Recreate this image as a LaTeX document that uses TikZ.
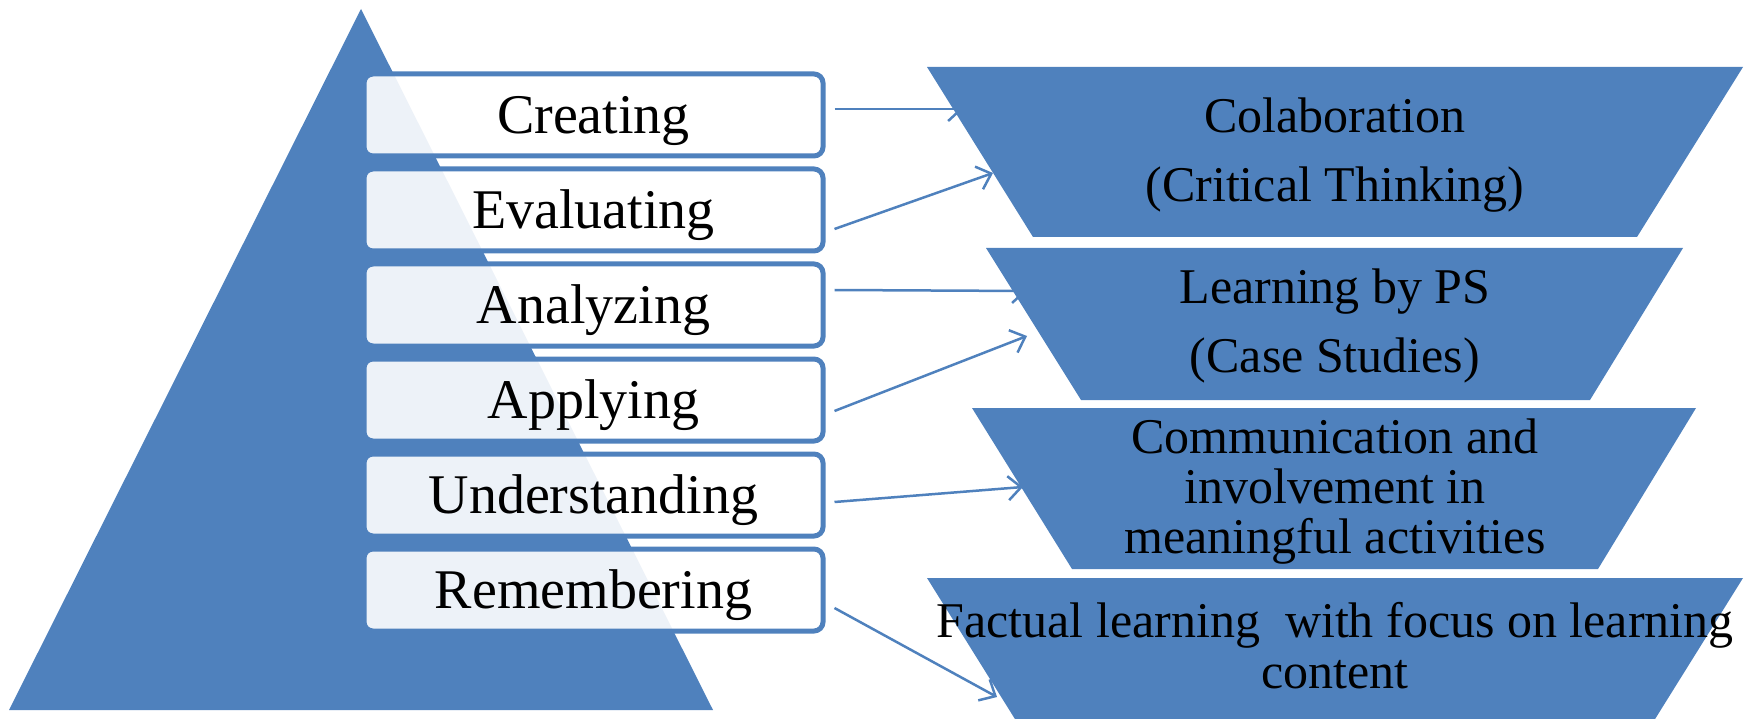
\documentclass[tikz,border=0pt]{standalone}
\usepackage{fontspec}
\setmainfont{Liberation Serif}
\usepackage{tikz}
\usetikzlibrary{positioning}
\usetikzlibrary{arrows.meta}
\definecolor{bloomblue}{HTML}{4F81BD}
\tikzset{stage/.style={draw=bloomblue, line width=5pt, rounded corners=9pt,
  fill=white, fill opacity=0.9, text opacity=1, minimum width=459pt,
  minimum height=82pt, inner sep=0pt, text height=37pt, text depth=0pt,
  font=\fontsize{56}{60}\selectfont}}
\tikzset{goal/.style={align=center, anchor=base, inner sep=0pt}}
\tikzset{link/.style={draw=bloomblue, line width=2.5pt, ->}}

\begin{document}
\begin{tikzpicture}[x=1pt, y=-1pt, >={Straight Barb[length=13pt,width=24pt]}]
\useasboundingbox (0,0) rectangle (1756,719);
\clip (0,0) rectangle (1756,719);
% pyramid
\fill[bloomblue] (361,9) -- (713,710) -- (9,710) -- cycle;
% the six levels
\foreach \lbl/\yy/\nm in {Creating/115/crt, Evaluating/210/evl, Analyzing/305/anl,
  Applying/400/apl, Understanding/495/und, Remembering/590/rem} {
\node[stage] (\nm) at (593.5,\yy) {\lbl};
}
% funnel on the right
\fill[bloomblue] (927,67) -- (1743,67) -- (1637,237) -- (1033,237) -- cycle;
\fill[bloomblue] (986,248) -- (1683,248) -- (1590,400) -- (1081,400) -- cycle;
\fill[bloomblue] (972,408) -- (1696,408) -- (1598,569) -- (1072,569) -- cycle;
\fill[bloomblue] (927,578) -- (1743,578) -- (1637,748) -- (1033,748) -- cycle;
% (base = last line)
\node[goal, font=\fontsize{50}{69}\selectfont] (colab) at (1335,202) {Colaboration\\(Critical Thinking)};
\node[goal, font=\fontsize{50}{69}\selectfont] (prob) at (1335,372) {Learning by PS\\(Case Studies)};
\node[goal, font=\fontsize{50}{50}\selectfont] (comm) at (1335,553) {Communication and\\involvement in\\meaningful activities};
\node[goal, font=\fontsize{50}{51}\selectfont] (fact) at (1335,688) {Factual learning\ \ with focus on learning\\content};
% arrow ends
\coordinate (e1) at (963,109);
\coordinate (e2) at (993,173);
\coordinate (e3) at (1027,291);
\coordinate (e4) at (1027,336);
\coordinate (e5) at (1023,487);
\coordinate (e6) at (997,697);
\draw[link] ([xshift=9pt,yshift=6pt]crt.east) -- (e1);
\draw[link] ([xshift=9pt,yshift=-19pt]evl.east) -- (e2);
\draw[link] ([xshift=9pt,yshift=15pt]anl.east) -- (e3);
\draw[link] ([xshift=9pt,yshift=-11pt]apl.east) -- (e4);
\draw[link] ([xshift=9pt,yshift=-7pt]und.east) -- (e5);
\draw[link] ([xshift=9pt,yshift=-18pt]rem.east) -- (e6);
\end{tikzpicture}
\end{document}
